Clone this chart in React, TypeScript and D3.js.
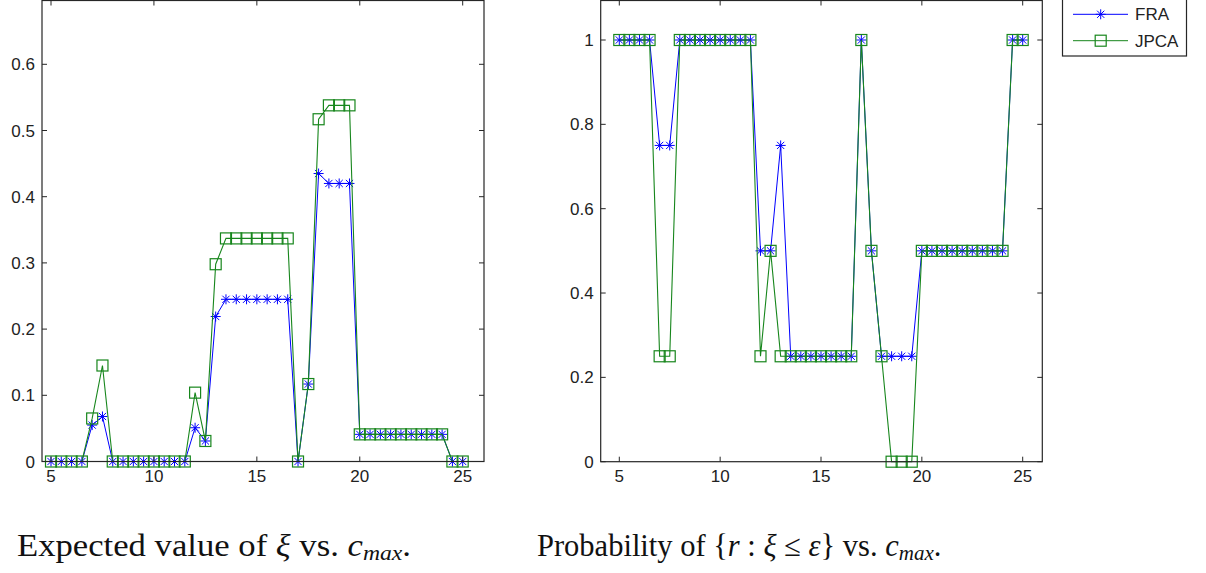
import React from "react";
import * as d3 from "d3";

// ---- data ----
const cmax = [5, 5.5, 6, 6.5, 7, 7.5, 8, 8.5, 9, 9.5, 10, 10.5, 11, 11.5, 12, 12.5, 13, 13.5, 14, 14.5, 15, 15.5, 16, 16.5, 17, 17.5, 18, 18.5, 19, 19.5, 20, 20.5, 21, 21.5, 22, 22.5, 23, 23.5, 24, 24.5, 25];

const expFRA = [0, 0, 0, 0, 0.055, 0.068, 0, 0, 0, 0, 0, 0, 0, 0, 0.051, 0.031, 0.219, 0.245, 0.245, 0.245, 0.245, 0.245, 0.245, 0.245, 0, 0.117, 0.435, 0.42, 0.42, 0.42, 0.041, 0.041, 0.041, 0.041, 0.041, 0.041, 0.041, 0.041, 0.041, 0, 0];
const expJPCA = [0, 0, 0, 0, 0.065, 0.145, 0, 0, 0, 0, 0, 0, 0, 0, 0.104, 0.031, 0.298, 0.337, 0.337, 0.337, 0.337, 0.337, 0.337, 0.337, 0, 0.117, 0.517, 0.538, 0.538, 0.538, 0.041, 0.041, 0.041, 0.041, 0.041, 0.041, 0.041, 0.041, 0.041, 0, 0];

const probFRA = [1, 1, 1, 1, 0.75, 0.75, 1, 1, 1, 1, 1, 1, 1, 1, 0.5, 0.5, 0.75, 0.25, 0.25, 0.25, 0.25, 0.25, 0.25, 0.25, 1, 0.5, 0.25, 0.25, 0.25, 0.25, 0.5, 0.5, 0.5, 0.5, 0.5, 0.5, 0.5, 0.5, 0.5, 1, 1];
const probJPCA = [1, 1, 1, 1, 0.25, 0.25, 1, 1, 1, 1, 1, 1, 1, 1, 0.25, 0.5, 0.25, 0.25, 0.25, 0.25, 0.25, 0.25, 0.25, 0.25, 1, 0.5, 0.25, 0, 0, 0, 0.5, 0.5, 0.5, 0.5, 0.5, 0.5, 0.5, 0.5, 0.5, 1, 1];

const xTicks = [5, 10, 15, 20, 25];
const leftYTicks = [0, 0.1, 0.2, 0.3, 0.4, 0.5, 0.6];
const rightYTicks = [0, 0.2, 0.4, 0.6, 0.8, 1];
const seriesNames = ["FRA", "JPCA"];

const BLUE = "#0000ff";
const GREEN = "#17861c";
const AXIS = "#262626";
const TICKFONT = "'Liberation Sans', Arial, sans-serif";
const TICKSIZE = 17;

function Asterisk({ x, y, r = 5, color }: { x: number; y: number; r?: number; color: string }) {
  const d = r * 0.72;
  return (
    <path
      d={`M${x - r},${y}H${x + r}M${x},${y - r}V${y + r}M${x - d},${y - d}L${x + d},${y + d}M${x - d},${y + d}L${x + d},${y - d}`}
      stroke={color}
      strokeWidth={1}
      fill="none"
    />
  );
}

function Square({ x, y, r = 5.5, color }: { x: number; y: number; r?: number; color: string }) {
  return <rect x={x - r} y={y - r} width={2 * r} height={2 * r} stroke={color} strokeWidth={1.2} fill="none" />;
}

type PanelProps = {
  box: [number, number, number, number];
  xRange: [number, number];
  yRange: [number, number];
  yDomain: [number, number];
  yTicks: number[];
  a: number[];
  b: number[];
};

function Panel({ box, xRange, yRange, yDomain, yTicks, a, b }: PanelProps) {
  const [L, T, R, B] = box;
  const x = d3.scaleLinear().domain([5, 25]).range(xRange);
  const y = d3.scaleLinear().domain(yDomain).range(yRange);
  const line = d3
    .line<number>()
    .x((_, i) => x(cmax[i]))
    .y((v) => y(v));
  const tl = 5;
  return (
    <g>
      <rect x={L} y={T} width={R - L} height={B - T} fill="#fff" />
      <path d={line(a) || ""} stroke={BLUE} strokeWidth={1} fill="none" />
      {a.map((v, i) => (
        <Asterisk key={"a" + i} x={x(cmax[i])} y={y(v)} color={BLUE} />
      ))}
      <path d={line(b) || ""} stroke={GREEN} strokeWidth={1.1} fill="none" />
      {b.map((v, i) => (
        <Square key={"b" + i} x={x(cmax[i])} y={y(v)} color={GREEN} />
      ))}
      <rect x={L} y={T} width={R - L} height={B - T} fill="none" stroke={AXIS} strokeWidth={1.2} />
      {xTicks.map((t) => (
        <g key={"xt" + t}>
          <line x1={x(t)} x2={x(t)} y1={B} y2={B - tl} stroke={AXIS} />
          <line x1={x(t)} x2={x(t)} y1={T} y2={T + tl} stroke={AXIS} />
          <text x={x(t)} y={482} textAnchor="middle" fontSize={TICKSIZE} fontFamily={TICKFONT} fill="#222">
            {t}
          </text>
        </g>
      ))}
      {yTicks.map((t) => (
        <g key={"yt" + t}>
          <line x1={L} x2={L + tl} y1={y(t)} y2={y(t)} stroke={AXIS} />
          <line x1={R} x2={R - tl} y1={y(t)} y2={y(t)} stroke={AXIS} />
          <text x={L - 7} y={y(t)} dy="0.36em" textAnchor="end" fontSize={TICKSIZE} fontFamily={TICKFONT} fill="#222">
            {String(t)}
          </text>
        </g>
      ))}
    </g>
  );
}

export default function App() {
  const serif = "'Liberation Serif', 'Times New Roman', serif";
  return (
    <svg
      width={1206}
      height={573}
      style={{ position: "absolute", left: 0, top: 0, background: "#fff" }}
    >
      <rect x={0} y={0} width={1206} height={573} fill="#fff" />
      <Panel
        box={[42, 0.5, 484, 461.5]}
        xRange={[51, 462.7]}
        yRange={[461.5, 64.3]}
        yDomain={[0, 0.6]}
        yTicks={leftYTicks}
        a={expFRA}
        b={expJPCA}
      />
      <Panel
        box={[600.7, 0.5, 1042.3, 461.7]}
        xRange={[619.3, 1022.7]}
        yRange={[461.7, 40]}
        yDomain={[0, 1]}
        yTicks={rightYTicks}
        a={probFRA}
        b={probJPCA}
      />
      {/* legend */}
      <g>
        <rect x={1062.5} y={-5} width={124} height={61} fill="#fff" stroke={AXIS} strokeWidth={1.2} />
        <line x1={1073} x2={1128} y1={14.3} y2={14.3} stroke={BLUE} />
        <Asterisk x={1100.7} y={14.3} color={BLUE} />
        <text x={1135} y={14.3} dy="0.36em" fontSize={TICKSIZE} fontFamily={TICKFONT} fill="#222">
          {seriesNames[0]}
        </text>
        <line x1={1073} x2={1128} y1={40.7} y2={40.7} stroke={GREEN} />
        <Square x={1100.7} y={40.7} color={GREEN} />
        <text x={1135} y={40.7} dy="0.36em" fontSize={TICKSIZE} fontFamily={TICKFONT} fill="#222">
          {seriesNames[1]}
        </text>
      </g>
      {/* captions */}
      <text x={17} y={556} fontSize={31.5} fontFamily={serif} fill="#111" textLength={394} lengthAdjust="spacingAndGlyphs">
        <tspan>Expected value of </tspan>
        <tspan fontStyle="italic">ξ</tspan>
        <tspan> vs. </tspan>
        <tspan fontStyle="italic">c</tspan>
        <tspan fontStyle="italic" fontSize={21.5} dy={4}>max</tspan>
        <tspan dy={-4}>.</tspan>
      </text>
      <text x={537} y={556} fontSize={30.5} fontFamily={serif} fill="#111">
        <tspan>Probability of {"{"}</tspan>
        <tspan fontStyle="italic">r</tspan>
        <tspan>{" : "}</tspan>
        <tspan fontStyle="italic">ξ</tspan>
        <tspan>{" ≤ "}</tspan>
        <tspan fontStyle="italic">ε</tspan>
        <tspan>{"} vs. "}</tspan>
        <tspan fontStyle="italic">c</tspan>
        <tspan fontStyle="italic" fontSize={21} dy={4}>max</tspan>
        <tspan dy={-4}>.</tspan>
      </text>
    </svg>
  );
}
